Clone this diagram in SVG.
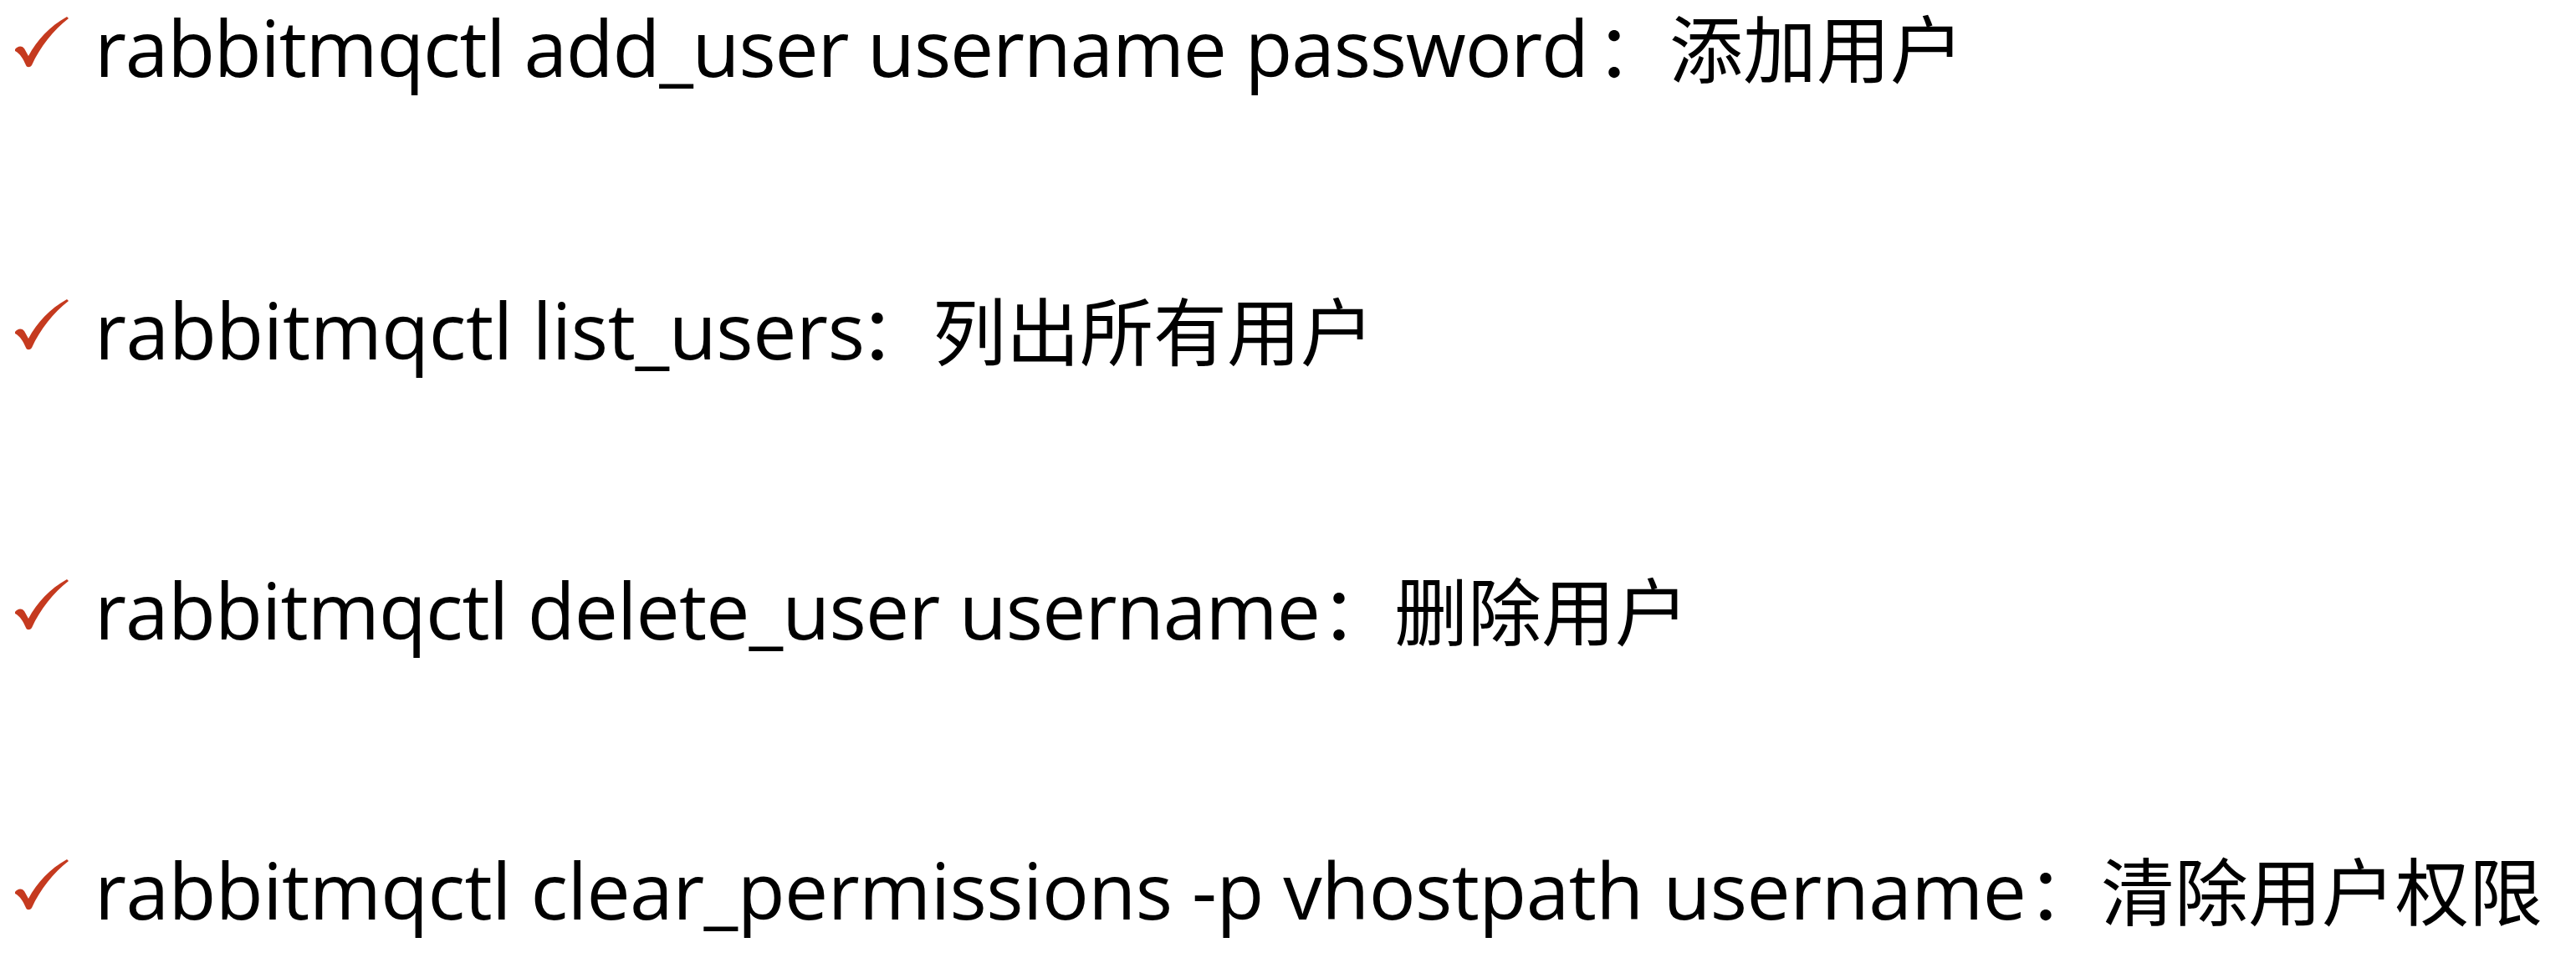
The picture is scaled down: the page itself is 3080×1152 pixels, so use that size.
<svg xmlns="http://www.w3.org/2000/svg" xmlns:xlink="http://www.w3.org/1999/xlink" width="3080" height="1152" viewBox="0 0 3080 1152">
<style>
.lat{font-family:"Open Sans","Noto Sans",sans-serif;font-size:93px;fill:#000}
.cjk{font-family:"Noto Sans CJK SC","Noto Sans",sans-serif;font-size:88px;fill:#000}
.chk{fill:#c53a1f}
</style>
<defs>
<path id="check" class="chk" d="M18,-33 C21,-37 26,-38 29,-34 L34,-25 C44,-44 60,-61 80,-72 L82,-70 C64,-56 48,-36 38,-14 C36,-11 32,-11 31,-14 C28,-21 24,-28 18,-31 Z"/>
</defs>
<rect x="0" y="0" width="3080" height="1152" fill="#ffffff"/>
<g id="line1">
<use xlink:href="#check" href="#check" transform="translate(0,92)"/>
<text y="92"><tspan class="lat" x="113" textLength="1787">rabbitmqctl add_user username password</tspan><tspan class="cjk" x="1908">：</tspan><tspan class="cjk" x="1996">添加用户</tspan></text>
</g>
<g id="line2">
<use xlink:href="#check" href="#check" transform="translate(0,430)"/>
<text y="430"><tspan class="lat" x="113" textLength="921">rabbitmqctl list_users</tspan><tspan class="cjk" x="1027">：</tspan><tspan class="cjk" x="1115">列出所有用户</tspan></text>
</g>
<g id="line3">
<use xlink:href="#check" href="#check" transform="translate(0,765)"/>
<text y="765"><tspan class="lat" x="113" textLength="1466">rabbitmqctl delete_user username</tspan><tspan class="cjk" x="1579">：</tspan><tspan class="cjk" x="1667">删除用户</tspan></text>
</g>
<g id="line4">
<use xlink:href="#check" href="#check" transform="translate(0,1100)"/>
<text y="1100"><tspan class="lat" x="113" textLength="2310">rabbitmqctl clear_permissions -p vhostpath username</tspan><tspan class="cjk" x="2424">：</tspan><tspan class="cjk" x="2512">清除用户权限</tspan></text>
</g>
<g id="connectors"/>
</svg>
